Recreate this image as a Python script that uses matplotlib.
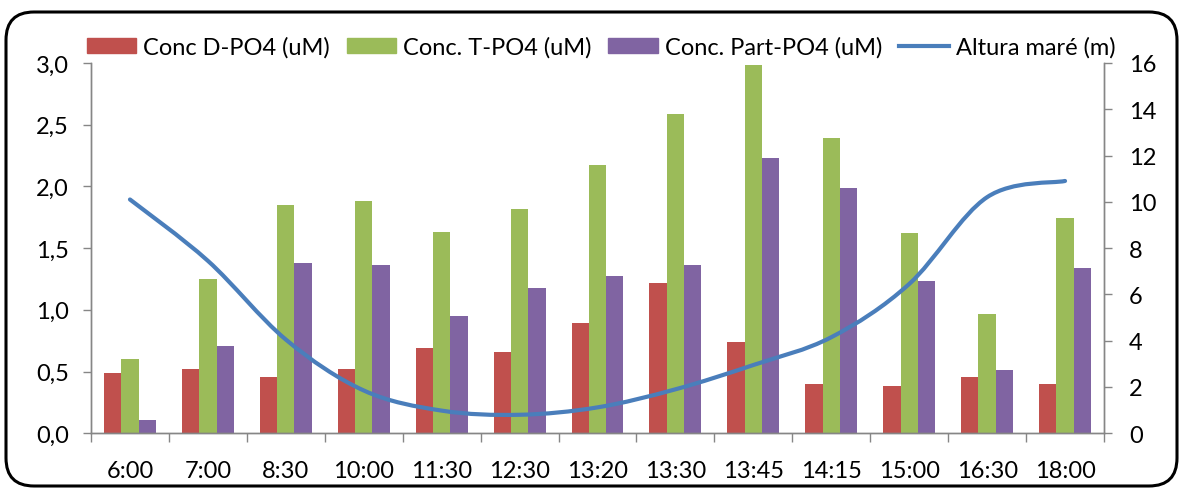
import matplotlib
matplotlib.use("Agg")
import matplotlib.pyplot as plt
import numpy as np
from matplotlib.path import Path
from matplotlib.patches import PathPatch, FancyBboxPatch, Patch
from matplotlib.lines import Line2D
from matplotlib.ticker import FixedLocator, FuncFormatter

categories = ["6:00", "7:00", "8:30", "10:00", "11:30", "12:30", "13:20",
              "13:30", "13:45", "14:15", "15:00", "16:30", "18:00"]
conc_d_po4 = [0.49, 0.52, 0.46, 0.52, 0.69, 0.66, 0.89, 1.22, 0.74, 0.40, 0.38, 0.46, 0.40]
conc_t_po4 = [0.60, 1.25, 1.85, 1.88, 1.63, 1.82, 2.17, 2.59, 2.98, 2.39, 1.62, 0.97, 1.74]
conc_part_po4 = [0.11, 0.71, 1.38, 1.36, 0.95, 1.18, 1.27, 1.36, 2.23, 1.99, 1.23, 0.51, 1.34]
altura_mare = [10.1, 7.45, 4.05, 1.85, 0.98, 0.80, 1.12, 1.90, 2.95, 4.15, 6.45, 10.2, 10.9]

series_labels = ["Conc D-PO4 (uM)", "Conc. T-PO4 (uM)", "Conc. Part-PO4 (uM)", "Altura maré (m)"]
colors = ["#C0504D", "#9BBB59", "#8064A2", "#4A7EBB"]
axis_gray = "#868686"

plt.rcParams['font.family'] = ['Lato', 'DejaVu Sans']

fig = plt.figure(figsize=(11.82, 4.89), dpi=100)
ax = fig.add_axes([91/1182, 1-434.3/489, (1104-91)/1182, (434.3-63.9)/489])
ax2 = ax.twinx()

n = len(categories)
x = np.arange(n)
bw = 1/4.5
ax.bar(x - bw, conc_d_po4, bw, color=colors[0], zorder=2)
ax.bar(x, conc_t_po4, bw, color=colors[1], zorder=2)
ax.bar(x + bw, conc_part_po4, bw, color=colors[2], zorder=2)

# smoothed line (Catmull-Rom style bezier, like Excel smoothing)
pts = np.column_stack([x, altura_mare]).astype(float)
verts = [pts[0]]
codes = [Path.MOVETO]
for i in range(n - 1):
    p0 = pts[i - 1] if i > 0 else pts[i]
    p1 = pts[i]
    p2 = pts[i + 1]
    p3 = pts[i + 2] if i + 2 < n else pts[i + 1]
    c1 = p1 + (p2 - p0) / 6
    c2 = p2 - (p3 - p1) / 6
    verts += [c1, c2, p2]
    codes += [Path.CURVE4] * 3
ax2.add_patch(PathPatch(Path(verts, codes), facecolor='none', edgecolor=colors[3],
                        lw=3.0, capstyle='round', zorder=3))

ax.set_xlim(-0.5, n - 0.5)
ax.set_ylim(0, 3.0)
ax2.set_ylim(0, 16)

ax.set_yticks(np.arange(0, 3.01, 0.5))
ax.yaxis.set_major_formatter(FuncFormatter(lambda v, p: f"{v:.1f}".replace(".", ",")))
ax2.set_yticks(np.arange(0, 17, 2))

tick_fs = 17
ax.set_xticks(x)
ax.set_xticklabels(categories)
ax.xaxis.set_minor_locator(FixedLocator(np.arange(-0.5, n, 1.0)))
ax.tick_params(axis='x', which='major', length=0, pad=19, labelsize=tick_fs)
ax.tick_params(axis='x', which='minor', length=6.5, width=1, color=axis_gray, direction='out')
ax.tick_params(axis='y', length=6, width=1, color=axis_gray, pad=10, labelsize=tick_fs)
ax2.tick_params(axis='y', length=6, width=1, color=axis_gray, pad=12, labelsize=tick_fs)

for a in (ax, ax2):
    a.spines['top'].set_visible(False)
    for s in ('left', 'right', 'bottom'):
        a.spines[s].set_color(axis_gray)
        a.spines[s].set_linewidth(1)
ax.set_facecolor('none')

handles = [Patch(color=colors[0]), Patch(color=colors[1]), Patch(color=colors[2]),
           Line2D([0], [0], color=colors[3], lw=3.0)]
fig.legend(handles, series_labels, loc='center', bbox_to_anchor=(601/1182, 1-48/489),
           ncol=4, frameon=False, fontsize=17, handlelength=2.1, handleheight=0.55,
           handletextpad=0.3, columnspacing=0.7, borderaxespad=0, borderpad=0)

frame = FancyBboxPatch((0.06, 0.02), 11.71, 4.74, boxstyle="round,pad=0,rounding_size=0.28",
                       transform=fig.dpi_scale_trans, facecolor='none', edgecolor='black',
                       lw=2.2, zorder=10)
fig.patches.append(frame)

fig.savefig("out.png", dpi=100)
